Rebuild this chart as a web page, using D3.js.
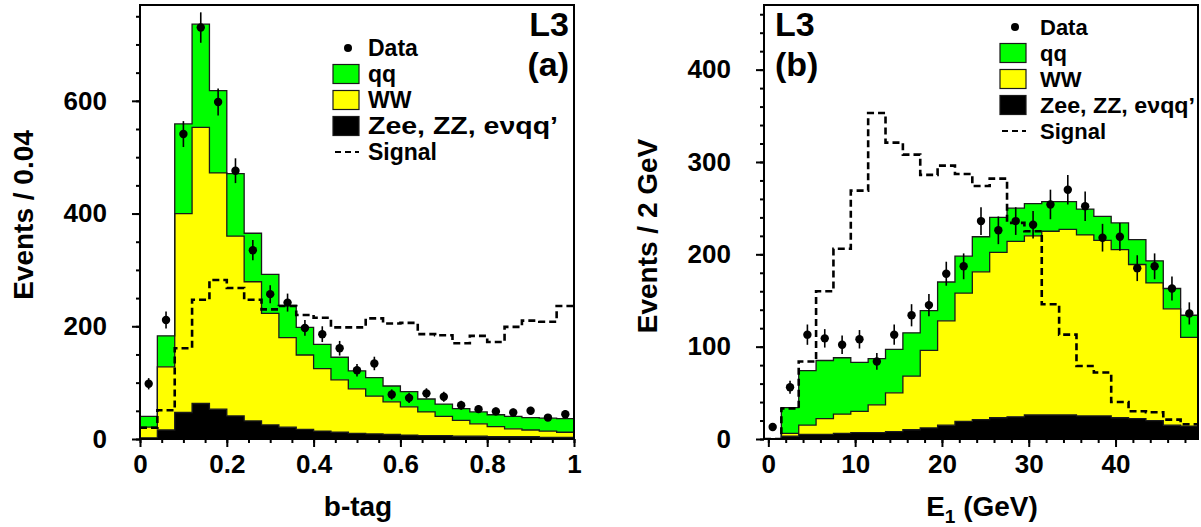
<!DOCTYPE html>
<html><head><meta charset="utf-8">
<script src="https://cdn.jsdelivr.net/npm/d3@7"></script>
<style>
body{margin:0;background:#fff}
text{font-family:"Liberation Sans",Arial,Helvetica,sans-serif;font-weight:bold;fill:#000}
</style>
</head><body>
<svg id="c" width="1201" height="527"></svg>
<script>
// ---------- Panel (a): b-tag, bins of width 0.04 ----------
const btagCenters = [0.02,0.06,0.10,0.14,0.18,0.22,0.26,0.30,0.34,0.38,0.42,0.46,0.50,0.54,0.58,0.62,0.66,0.70,0.74,0.78,0.82,0.86,0.90,0.94,0.98];
const btagWidth = 0.04;
const btagQQ    = [19,55,159,183,146,111,86,69,57,49,43,40,32,33,28,27,23,22,21,21,21,22,22,23,24];
const btagWW    = [19,112,353,490,419,319,247,198,159,132,111,93,79,67,58,50,42,34,28,22,18,14,12,11,9];
const btagOther = [2,16,47,63,53,41,32,25,21,17,14,12,10,9,8,7,6,6,5,5,4,4,4,3,3];
const btagSignal= [20,51,161,247,282,268,247,230,236,220,215,198,198,214,205,206,186,184,170,183,172,199,210,208,236];
const btagData  = [98,211,541,730,598,476,335,257,242,197,186,161,122,134,79,73,81,75,60,53,49,47,50,38,44];
const btagErr   = [10,15,23,27,24,22,18,16,16,14,14,13,11,12,9,9,9,9,8,7,7,7,7,6,7];
const btagXTicks = [0,0.2,0.4,0.6,0.8,1];
const btagYTicks = [0,200,400,600];

// ---------- Panel (b): E1, bins of width 2 GeV ----------
const e1Centers = [0.5,2.5,4.5,6.5,8.5,10.5,12.5,14.5,16.5,18.5,20.5,22.5,24.5,26.5,28.5,30.5,32.5,34.5,36.5,38.5,40.5,42.5,44.5,46.5,48.5];
const e1Width = 2;
const e1QQ    = [0,28,59,63,61,53,50,47,47,43,42,40,38,38,36,35,32,30,28,26,29,27,24,22,24];
const e1WW    = [0,3,10,17,21,23,30,42,58,84,113,139,160,179,190,194,199,201,196,190,182,167,149,126,96];
const e1Other = [0,3,5,5,6,7,7,8,10,12,15,19,21,23,24,26,26,26,25,25,23,22,20,15,14];
const e1Signal= [0,33,84,160,206,269,353,321,308,286,296,287,274,282,234,225,146,113,79,72,40,30,29,21,16];
const e1Data  = [13,56,113,109,102,108,84,113,134,145,179,187,236,226,236,232,254,270,252,218,219,185,187,163,136];
const e1Err   = [4,7,11,10,10,10,9,11,12,12,13,14,15,15,15,15,16,16,16,15,15,14,14,13,12];
const e1XTicks = [0,10,20,30,40];
const e1YTicks = [0,100,200,300,400];

const legendLabels = ["Data","qq","WW","Zee, ZZ, e\u03bdqq\u2019","Signal"];
const colors = {qq:"#00ff00", WW:"#ffff00", other:"#000000"};

const svg = d3.select("#c");

function drawPanel(cfg){
  const g = svg.append("g");
  const x = d3.scaleLinear().domain(cfg.xDomain).range([cfg.left, cfg.right]);
  const y = d3.scaleLinear().domain([0, cfg.yMax]).range([cfg.bottom, cfg.top]);
  const clipId = "clip"+cfg.id;
  svg.append("clipPath").attr("id", clipId).append("rect")
    .attr("x", cfg.left).attr("y", cfg.top).attr("width", cfg.right-cfg.left).attr("height", cfg.bottom-cfg.top);
  const plot = g.append("g").attr("clip-path", `url(#${clipId})`);

  const rows = cfg.centers.map((c,i)=>({lo:c-cfg.width/2, hi:c+cfg.width/2, qq:cfg.qq[i], WW:cfg.WW[i], other:cfg.other[i]}));
  const stacked = d3.stack().keys(["other","WW","qq"])(rows);
  function stepPts(layer){
    const pts = layer.map((d,i)=>({x:rows[i].lo, y0:d[0], y1:d[1]}));
    const last = layer[layer.length-1];
    pts.push({x:rows[rows.length-1].hi, y0:last[0], y1:last[1]});
    return pts;
  }
  const area = d3.area().curve(d3.curveStepAfter).x(d=>x(d.x)).y0(d=>y(d.y0)).y1(d=>y(d.y1));
  const topLine = d3.line().curve(d3.curveStepAfter).x(d=>x(d.x)).y(d=>y(d.y1));
  [...stacked].reverse().forEach(layer=>{
    plot.append("path").attr("d", area(stepPts(layer))).attr("fill", colors[layer.key]).attr("stroke","none");
  });
  [...stacked].reverse().forEach(layer=>{
    plot.append("path").attr("d", topLine(stepPts(layer))).attr("fill","none").attr("stroke","#1a1a1a").attr("stroke-width",1.3);
  });

  // signal (dashed step)
  const sig = cfg.signal.map((v,i)=>({x:rows[i].lo, y1:v}));
  sig.push({x:rows[rows.length-1].hi, y1:cfg.signal[cfg.signal.length-1]});
  plot.append("path").attr("d", topLine(sig)).attr("fill","none").attr("stroke","#000")
    .attr("stroke-width",2.6).attr("stroke-dasharray","7,4");

  // data with error bars
  cfg.centers.forEach((c,i)=>{
    plot.append("line").attr("x1",x(c)).attr("x2",x(c))
      .attr("y1",y(cfg.data[i]-cfg.err[i])).attr("y2",y(cfg.data[i]+cfg.err[i]))
      .attr("stroke","#000").attr("stroke-width",1.6);
    plot.append("circle").attr("cx",x(c)).attr("cy",y(cfg.data[i])).attr("r",4.2).attr("fill","#000");
  });

  // axes
  const xAxis = d3.axisBottom(x).tickValues(cfg.xTicks).tickSize(8).tickPadding(8).tickFormat(cfg.xFmt);
  const xMinor = d3.axisBottom(x).tickValues(cfg.xMinor).tickSize(4).tickFormat("");
  const yAxis = d3.axisLeft(y).tickValues(cfg.yTicks).tickSize(8).tickPadding(25).tickFormat(d3.format("d"));
  const yMinor = d3.axisLeft(y).tickValues(cfg.yMinor).tickSize(4).tickFormat("");
  [[xAxis,`translate(0,${cfg.bottom})`],[xMinor,`translate(0,${cfg.bottom})`],[yAxis,`translate(${cfg.left},0)`],[yMinor,`translate(${cfg.left},0)`]]
    .forEach(([ax,tr])=>{
      const a = g.append("g").attr("transform",tr).call(ax);
      a.select(".domain").remove();
      a.selectAll("line").attr("stroke","#000").attr("stroke-width",2);
      a.selectAll("text").attr("font-size",26).style("font-family",'"Liberation Sans",Arial,sans-serif').style("font-weight","bold");
    });
  // frame
  g.append("rect").attr("x",cfg.left).attr("y",cfg.top).attr("width",cfg.right-cfg.left).attr("height",cfg.bottom-cfg.top)
    .attr("fill","none").attr("stroke","#000").attr("stroke-width",2);

  // axis titles
  const xt = g.append("text").attr("x",cfg.xTitleX).attr("y",516).attr("text-anchor","middle").attr("font-size",28);
  cfg.xTitle(xt);
  g.append("text").attr("transform",`translate(${cfg.yTitleX},${cfg.yTitleY}) rotate(-90)`)
    .attr("text-anchor","middle").attr("font-size",28).text(cfg.yTitle);

  // L3 and panel tag
  g.append("text").attr("x",cfg.tagX).attr("y",36).attr("text-anchor",cfg.tagAnchor).attr("font-size",34).text("L3");
  g.append("text").attr("x",cfg.tagX).attr("y",76).attr("text-anchor",cfg.tagAnchor).attr("font-size",34).text(cfg.tag);

  // legend
  const lg = g.append("g");
  legendLabels.forEach((lab,i)=>{
    const cy = cfg.legY + 26*i;
    const t = lg.append("text").attr("x",cfg.legTextX).attr("y",cy+8).attr("font-size",cfg.legFont).text(lab);
    if(i===3) t.attr("textLength",cfg.longLen).attr("lengthAdjust","spacingAndGlyphs");
    const bx = cfg.legBoxX;
    if(i===0){
      lg.append("circle").attr("cx",bx+15).attr("cy",cy).attr("r",4).attr("fill","#000");
    } else if(i===4){
      lg.append("line").attr("x1",bx).attr("x2",bx+26).attr("y1",cy).attr("y2",cy)
        .attr("stroke","#000").attr("stroke-width",2).attr("stroke-dasharray","6,4").attr("stroke-dashoffset",-2);
    } else {
      const key = ["","qq","WW","other"][i];
      lg.append("rect").attr("x",bx).attr("y",cy-9.5).attr("width",26).attr("height",19)
        .attr("fill",colors[key]).attr("stroke","#1a1a1a").attr("stroke-width",1.2);
    }
  });
}

drawPanel({
  id:"a", left:140, right:574, top:5, bottom:439, xDomain:[0,1], yMax:770,
  centers:btagCenters, width:btagWidth, qq:btagQQ, WW:btagWW, other:btagOther,
  signal:btagSignal, data:btagData, err:btagErr,
  xTicks:btagXTicks, xMinor:d3.range(0,1.0001,0.05), yTicks:btagYTicks, yMinor:d3.range(0,751,50),
  xFmt:d=>d3.format("")(+d.toFixed(1)),
  xTitleX:358, xTitle:t=>t.text("b-tag"),
  yTitleX:33, yTitleY:215, yTitle:"Events / 0.04",
  tagX:569, tagAnchor:"end", tag:"(a)",
  legY:48, legBoxX:333, legTextX:368, legFont:23, longLen:190
});

drawPanel({
  id:"b", left:764, right:1198, top:5, bottom:439, xDomain:[-0.5,49.5], yMax:470,
  centers:e1Centers, width:e1Width, qq:e1QQ, WW:e1WW, other:e1Other,
  signal:e1Signal, data:e1Data, err:e1Err,
  xTicks:e1XTicks, xMinor:d3.range(0,49,2), yTicks:e1YTicks, yMinor:d3.range(0,461,20),
  xFmt:d3.format("d"),
  xTitleX:982, xTitle:t=>{t.append("tspan").text("E");t.append("tspan").attr("font-size",19).attr("dy",7).text("1");t.append("tspan").attr("dy",-7).text(" (GeV)");},
  yTitleX:657, yTitleY:236, yTitle:"Events / 2 GeV",
  tagX:775, tagAnchor:"start", tag:"(b)",
  legY:27, legBoxX:1000, legTextX:1040, legFont:22, longLen:155
});
</script>
</body></html>
